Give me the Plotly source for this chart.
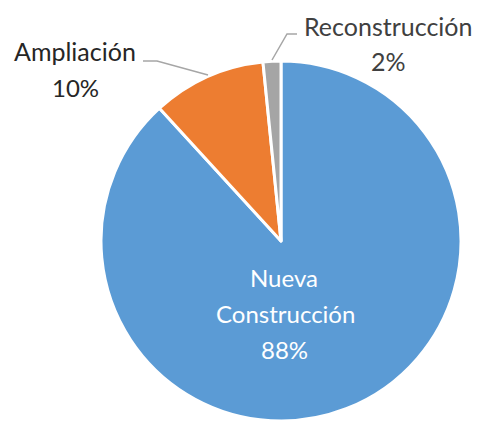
import plotly.graph_objects as go

labels = ["Nueva Construcción", "Ampliación", "Reconstrucción"]
values = [88.2, 10.2, 1.6]
colors = ["#5B9BD5", "#ED7D31", "#A5A5A5"]

W, H = 478, 421
total = sum(values)
pct = [f"{round(v / total * 100)}%" for v in values]

def px(x):
    return x / W

def py(y):
    return 1 - y / H

fig = go.Figure(go.Pie(
    labels=labels,
    values=values,
    sort=False,
    direction="clockwise",
    rotation=0,
    marker=dict(colors=colors, line=dict(color="white", width=3)),
    textinfo="none",
    hoverinfo="label+percent",
    domain=dict(x=[px(101), px(461)], y=[py(421), py(61)]),
    showlegend=False,
))

font = "Lato, 'Open Sans', sans-serif"
lines = [
    (284, 277, "Nueva", "white", 24),
    (285, 313, "Construcción", "white", 24),
    (284, 349, pct[0], "white", 24),
    (75, 51, labels[1], "#262626", 25),
    (75, 87, pct[1], "#262626", 24),
    (388, 26, labels[2], "#404040", 25),
    (388, 61, pct[2], "#404040", 25),
]
annotations = []
for x, y, t, c, s in lines:
    annotations.append(dict(
        x=px(x), y=py(y), xref="paper", yref="paper", text=t, showarrow=False,
        font=dict(family=font, size=s, color=c), xanchor="center", yanchor="middle",
    ))

line_col = "#A6A6A6"
shapes = [
    dict(type="path", xref="paper", yref="paper",
         path=f"M {px(143)},{py(61)} L {px(157)},{py(61)} L {px(208)},{py(75)}",
         line=dict(color=line_col, width=1.5)),
    dict(type="path", xref="paper", yref="paper",
         path=f"M {px(297)},{py(34)} L {px(287)},{py(34)} L {px(272)},{py(60)}",
         line=dict(color=line_col, width=1.5)),
]

fig.update_layout(
    width=W, height=H,
    margin=dict(l=0, r=0, t=0, b=0),
    paper_bgcolor="white", plot_bgcolor="white",
    annotations=annotations,
    shapes=shapes,
)

fig.write_html(
    "out.html",
    config={"displayModeBar": False},
    post_script="document.body.style.margin='0';document.body.style.overflow='hidden';",
)
